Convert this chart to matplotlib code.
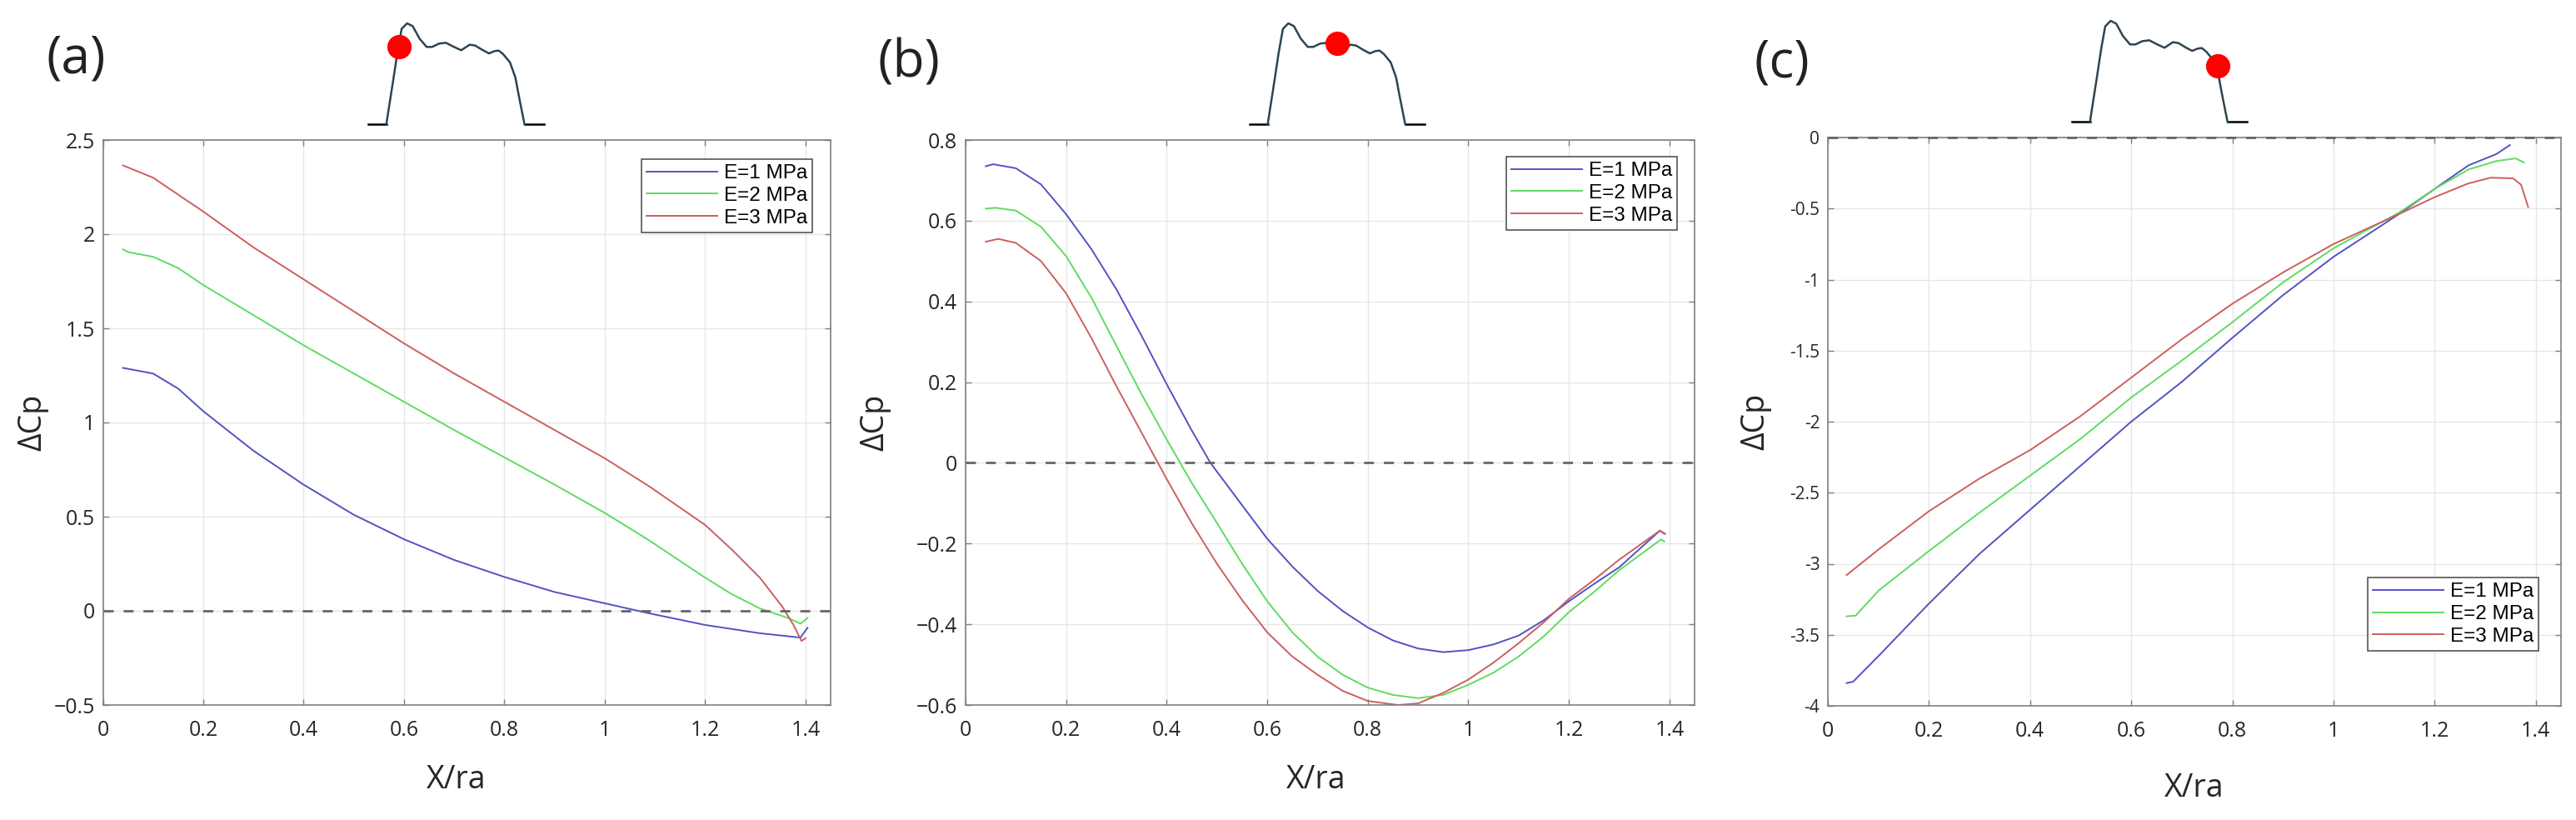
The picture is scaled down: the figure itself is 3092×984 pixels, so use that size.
import numpy as np
import matplotlib
matplotlib.use("Agg")
import matplotlib.pyplot as plt
from matplotlib.ticker import FuncFormatter

# ---- data ----
series_labels = ["E=1 MPa", "E=2 MPa", "E=3 MPa"]
series_colors = ["#5252c4", "#5fdc5f", "#cc5f5f"]

# panel (a)
a_x1 = [0.04, 0.1, 0.15, 0.2, 0.3, 0.4, 0.5, 0.6, 0.7, 0.8, 0.9, 1.0, 1.088, 1.2, 1.309, 1.39, 1.404]
a_y1 = [1.29, 1.26, 1.18, 1.06, 0.85, 0.67, 0.51, 0.38, 0.27, 0.18, 0.10, 0.04, -0.013, -0.075, -0.119, -0.142, -0.09]
a_x2 = [0.04, 0.05, 0.07, 0.1, 0.15, 0.2, 0.3, 0.4, 0.5, 0.6, 0.7, 0.8, 0.9, 1.0, 1.088, 1.2, 1.254, 1.309, 1.365, 1.39, 1.404]
a_y2 = [1.92, 1.905, 1.895, 1.88, 1.82, 1.73, 1.57, 1.41, 1.26, 1.11, 0.96, 0.815, 0.67, 0.52, 0.375, 0.176, 0.087, 0.013, -0.038, -0.068, -0.038]
a_x3 = [0.04, 0.1, 0.2, 0.3, 0.4, 0.5, 0.6, 0.7, 0.8, 0.9, 1.0, 1.088, 1.2, 1.254, 1.309, 1.354, 1.376, 1.392, 1.4]
a_y3 = [2.365, 2.30, 2.12, 1.93, 1.76, 1.59, 1.42, 1.26, 1.11, 0.96, 0.81, 0.662, 0.456, 0.323, 0.176, 0.021, -0.075, -0.16, -0.145]

# panel (b)
b_x1 = [0.04, 0.055, 0.1, 0.15, 0.2, 0.25, 0.3, 0.35, 0.4, 0.45, 0.487, 0.55, 0.6, 0.65, 0.7, 0.75, 0.8,
        0.85, 0.9, 0.95, 1.0, 1.05, 1.1, 1.15, 1.2, 1.25, 1.3, 1.381, 1.391]
b_y1 = [0.735, 0.74, 0.73, 0.69, 0.616, 0.53, 0.43, 0.315, 0.195, 0.08, 0.0, -0.105, -0.188, -0.257, -0.317,
        -0.367, -0.408, -0.44, -0.46, -0.469, -0.464, -0.45, -0.428, -0.39, -0.343, -0.30, -0.259, -0.168, -0.176]
b_x2 = [0.04, 0.06, 0.1, 0.15, 0.2, 0.25, 0.3, 0.35, 0.4, 0.45, 0.5, 0.55, 0.6, 0.65, 0.7, 0.75, 0.8,
        0.85, 0.9, 0.95, 1.0, 1.05, 1.1, 1.15, 1.2, 1.25, 1.3, 1.383, 1.39]
b_y2 = [0.63, 0.632, 0.625, 0.585, 0.512, 0.41, 0.29, 0.17, 0.058, -0.05, -0.149, -0.25, -0.343, -0.42,
        -0.48, -0.525, -0.557, -0.575, -0.583, -0.575, -0.55, -0.52, -0.48, -0.43, -0.37, -0.32, -0.266, -0.19, -0.195]
b_x3 = [0.04, 0.065, 0.1, 0.15, 0.2, 0.25, 0.3, 0.35, 0.4, 0.45, 0.5, 0.55, 0.6, 0.65, 0.7, 0.75, 0.8,
        0.86, 0.9, 0.95, 1.0, 1.05, 1.1, 1.15, 1.2, 1.25, 1.3, 1.381, 1.391]
b_y3 = [0.548, 0.555, 0.545, 0.50, 0.42, 0.31, 0.19, 0.075, -0.04, -0.15, -0.25, -0.34, -0.42, -0.48,
        -0.525, -0.565, -0.59, -0.6, -0.596, -0.57, -0.537, -0.495, -0.447, -0.395, -0.337, -0.29, -0.24, -0.168, -0.176]

# panel (c)
c_x1 = [0.037, 0.05, 0.1, 0.2, 0.3, 0.4, 0.5, 0.6, 0.7, 0.8, 0.9, 1.0, 1.13, 1.2, 1.267, 1.322, 1.349]
c_y1 = [-3.84, -3.83, -3.65, -3.28, -2.93, -2.62, -2.31, -2.0, -1.72, -1.41, -1.11, -0.84, -0.538, -0.362, -0.196, -0.117, -0.053]
c_x2 = [0.037, 0.055, 0.1, 0.2, 0.3, 0.4, 0.5, 0.6, 0.7, 0.8, 0.9, 1.0, 1.13, 1.2, 1.267, 1.322, 1.36, 1.377]
c_y2 = [-3.37, -3.365, -3.19, -2.91, -2.64, -2.38, -2.12, -1.83, -1.57, -1.30, -1.02, -0.78, -0.528, -0.362, -0.225, -0.166, -0.147, -0.176]
c_x3 = [0.037, 0.1, 0.2, 0.3, 0.4, 0.5, 0.6, 0.7, 0.8, 0.9, 1.0, 1.13, 1.2, 1.267, 1.311, 1.355, 1.371, 1.385]
c_y3 = [-3.08, -2.90, -2.63, -2.40, -2.20, -1.96, -1.69, -1.42, -1.17, -0.95, -0.75, -0.538, -0.42, -0.323, -0.283, -0.287, -0.332, -0.489]

x_ticks = [0, 0.2, 0.4, 0.6, 0.8, 1.0, 1.2, 1.4]
a_yticks = [-0.5, 0, 0.5, 1, 1.5, 2, 2.5]
b_yticks = [-0.6, -0.4, -0.2, 0, 0.2, 0.4, 0.6, 0.8]
c_yticks = [-4, -3.5, -3, -2.5, -2, -1.5, -1, -0.5, 0]

# little profile sketch above each panel (normalised 0..1)
profile_x = [0, 0.103, 0.142, 0.166, 0.190, 0.221, 0.253, 0.292, 0.332, 0.363, 0.403, 0.442,
             0.482, 0.529, 0.577, 0.608, 0.648, 0.687, 0.719, 0.742, 0.766, 0.806, 0.837, 0.861, 0.889, 1.0]
profile_y = [0, 0, 0.435, 0.711, 0.945, 1.0, 0.972, 0.848, 0.766, 0.766, 0.799, 0.807,
             0.771, 0.733, 0.788, 0.780, 0.738, 0.702, 0.725, 0.730, 0.697, 0.614, 0.463, 0.242, 0, 0]
dot_pos = [(0.177, 0.77), (0.5, 0.80), (0.833, 0.55)]

W, H = 3092, 984
fig = plt.figure(figsize=(W / 100, H / 100), dpi=100)


def px_axes(x0, y0, x1, y1):
    return fig.add_axes([x0 / W, 1 - y1 / H, (x1 - x0) / W, (y1 - y0) / H])


def fmt_minus(v, pos):
    v = round(v, 6) + 0.0
    return f"{v:g}".replace("-", "\u2212")


def fmt_hyphen(v, pos):
    v = round(v, 6) + 0.0
    return f"{v:g}"


panels = [
    dict(box=(123.5, 168, 997, 846), xs=[a_x1, a_x2, a_x3], ys=[a_y1, a_y2, a_y3],
         ylim=(-0.5, 2.5), yticks=a_yticks, yfmt=fmt_minus, yfs=18, label="(a)", lab=(55, 40),
         inset=(442, 28, 653, 149), leg=("upper right", (1 - 22 / 873.5, 1 - 23 / 678)),
         ylab_x=(58 - 123.5) / 873.5, xlab=(0.485, -0.104)),
    dict(box=(1159, 168, 2034, 846), xs=[b_x1, b_x2, b_x3], ys=[b_y1, b_y2, b_y3],
         ylim=(-0.6, 0.8), yticks=b_yticks, yfmt=fmt_minus, yfs=18, label="(b)", lab=(1053, 45),
         inset=(1500, 28, 1710, 149), leg=("upper right", (1 - 21 / 875, 1 - 20 / 678)),
         ylab_x=(1069 - 1159) / 875, xlab=(0.481, -0.104)),
    dict(box=(2194, 165, 3074, 847), xs=[c_x1, c_x2, c_x3], ys=[c_y1, c_y2, c_y3],
         ylim=(-4, 0), yticks=c_yticks, yfmt=fmt_hyphen, yfs=15, label="(c)", lab=(2106, 45),
         inset=(2487, 25, 2697, 146), leg=("lower right", (1 - 27 / 880, 66 / 682)),
         ylab_x=(2126 - 2194) / 880, xlab=(0.5, -0.117)),
]

for i, p in enumerate(panels):
    ax = px_axes(*p["box"])
    ax.grid(True, color="#e6e6e6", linewidth=1)
    ax.set_axisbelow(True)
    for xs, ys, lab, col in zip(p["xs"], p["ys"], series_labels, series_colors):
        ax.plot(xs, ys, color=col, linewidth=1.4, label=lab, solid_joinstyle="round")
    ax.axhline(0, color="#666666", linewidth=2, linestyle=(0, (4.3, 4.3)), clip_on=False, zorder=5)

    ax.set_xlim(0, 1.45)
    ax.set_ylim(*p["ylim"])
    ax.set_xticks(x_ticks)
    ax.set_yticks(p["yticks"])
    ax.xaxis.set_major_formatter(FuncFormatter(fmt_minus))
    ax.yaxis.set_major_formatter(FuncFormatter(p["yfmt"]))
    ax.tick_params(direction="in", length=5, width=1, color="#808080", top=True, right=True,
                   labelcolor="#262626")
    ax.tick_params(axis="x", labelsize=18, pad=13)
    ax.tick_params(axis="y", labelsize=p["yfs"], pad=7)
    for lbl in ax.get_xticklabels() + ax.get_yticklabels():
        lbl.set_family("Open Sans")
    for sp in ax.spines.values():
        sp.set_color("#808080")
        sp.set_linewidth(1.2)

    ax.set_xlabel("X/ra", fontsize=27, family="Open Sans", color="#262626")
    ax.set_ylabel("\u0394Cp", fontsize=27, family="Open Sans", color="#262626")
    ax.xaxis.set_label_coords(*p["xlab"])
    ax.yaxis.set_label_coords(p["ylab_x"], 0.5)

    leg = ax.legend(loc=p["leg"][0], bbox_to_anchor=p["leg"][1], borderaxespad=0,
                    prop={"family": "Liberation Sans", "size": 17.5}, handlelength=3.5,
                    handletextpad=0.3, labelspacing=0.2, borderpad=0.25,
                    fancybox=False, framealpha=1, edgecolor="#555555")
    leg.get_frame().set_linewidth(1.2)
    leg.set_zorder(10)

    fig.text(p["lab"][0] / W, 1 - p["lab"][1] / H, p["label"], fontsize=45,
             family="Open Sans", ha="left", va="top", color="#222222")

    # profile sketch with red marker
    ins = px_axes(*p["inset"])
    ins.set_xlim(0, 1)
    ins.set_ylim(0, 1)
    ins.axis("off")
    ins.plot(profile_x[:2], profile_y[:2], color="black", linewidth=1.8, clip_on=False)
    ins.plot(profile_x[-2:], profile_y[-2:], color="black", linewidth=1.8, clip_on=False)
    ins.plot(profile_x[1:-1], profile_y[1:-1], color="#2e4450", linewidth=1.8,
             solid_joinstyle="round", clip_on=False)
    ins.plot([dot_pos[i][0]], [dot_pos[i][1]], "o", color="red", markersize=20, clip_on=False)

fig.savefig("out.png", dpi=100)
